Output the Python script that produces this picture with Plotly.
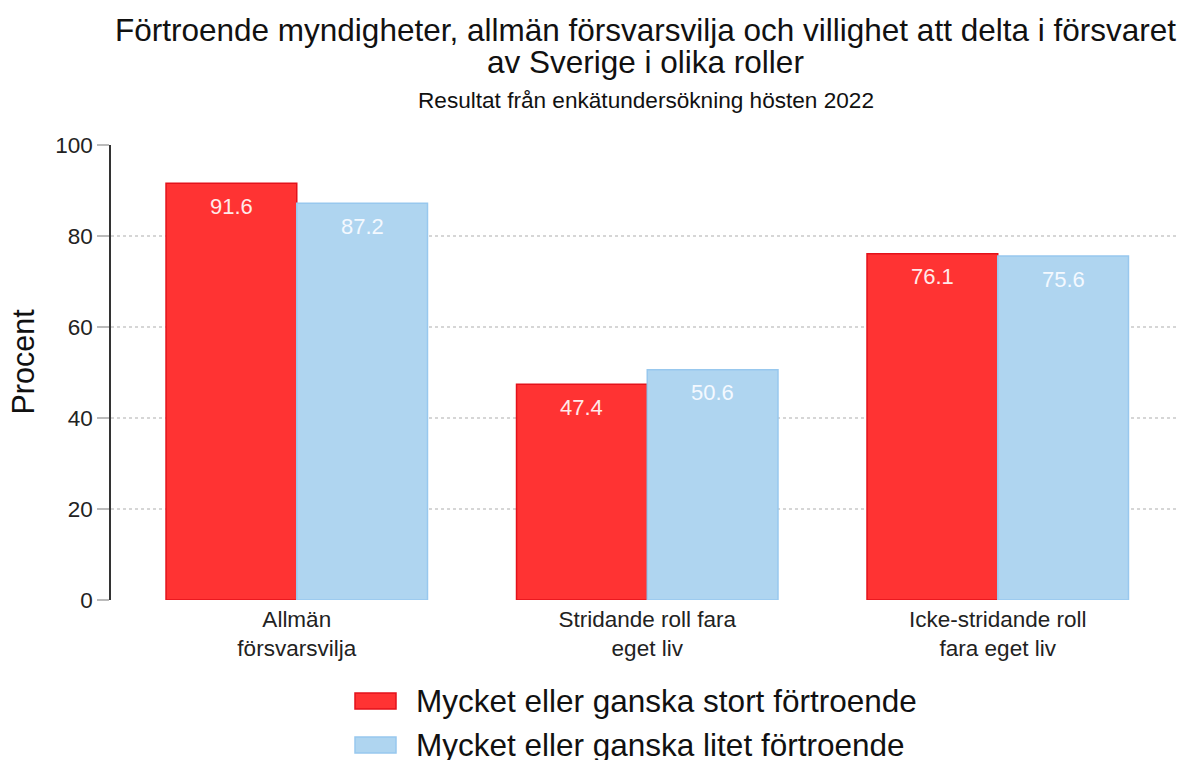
import plotly.graph_objects as go

categories = ["Allmän<br>försvarsvilja", "Stridande roll fara<br>eget liv", "Icke-stridande roll<br>fara eget liv"]
series_names = ["Mycket eller ganska stort förtroende", "Mycket eller ganska litet förtroende"]
stort = [91.6, 47.4, 76.1]
litet = [87.2, 50.6, 75.6]
y_ticks = [0, 20, 40, 60, 80, 100]

title_lines = ["Förtroende myndigheter, allmän försvarsvilja och villighet att delta i försvaret",
               "av Sverige i olika roller"]
subtitle = "Resultat från enkätundersökning hösten 2022"

font = "Liberation Sans, Arial, sans-serif"
red, red_line = "#ff3333", "#e3121b"
blue, blue_line = "#afd5f0", "#98c8ee"

OFF = 8  # default page body margin
W, H = 1185, 760
# target plot box in page pixels: left 111, top 145, right 1180, bottom 600
ML, MT = 111 - OFF, 145 - OFF
MR = W - (1180 - OFF)
MB = H - (600 - OFF)
x_range = [-0.53, 2.52]
bargap = 0.254
plot_w = W - ML - MR
plot_h = H - MT - MB
px_per_unit = plot_w / (x_range[1] - x_range[0])
half_bar = (1 - bargap) / 4 * px_per_unit


def py(page_y):
    """page pixel y -> paper coordinate"""
    return (MT + plot_h - (page_y - OFF)) / plot_h


def px(page_x):
    return (page_x - OFF - ML) / plot_w


fig = go.Figure()
fig.add_trace(go.Bar(
    x=categories, y=stort, name=series_names[0], showlegend=False,
    marker=dict(color=red, line=dict(color=red_line, width=1.5)),
))
fig.add_trace(go.Bar(
    x=categories, y=litet, name=series_names[1], showlegend=False,
    marker=dict(color=blue, line=dict(color=blue_line, width=1.5)),
))

annotations = []
for vals, shift, col in [(stort, -half_bar, "#ffeaea"), (litet, half_bar, "#f4f9ff")]:
    for c, v in zip(categories, vals):
        annotations.append(dict(
            x=c, y=v, xref="x", yref="y", xshift=shift, yshift=-23,
            text=f"{v:.1f}", showarrow=False, xanchor="center", yanchor="middle",
            font=dict(size=22, color=col, family=font),
        ))

# titles
for txt, ys, size in [(title_lines[0], 115, 31.5), (title_lines[1], 83, 31.5), (subtitle, 45, 22.6)]:
    annotations.append(dict(
        x=0.5, y=1, xref="paper", yref="paper", yshift=ys, text=txt, showarrow=False,
        xanchor="center", yanchor="middle", font=dict(size=size, color="#111", family=font),
    ))

# y-axis title
annotations.append(dict(
    x=0, y=0.5, xref="paper", yref="paper", xshift=-89, yshift=11, text="Procent", textangle=-90,
    showarrow=False, xanchor="center", yanchor="middle",
    font=dict(size=30.5, color="#111", family=font),
))

# legend (custom)
shapes = []
for i, (name, fc, lc) in enumerate([(series_names[0], red, red_line), (series_names[1], blue, blue_line)]):
    cy = 701 + 44 * i
    shapes.append(dict(type="rect", xref="paper", yref="paper", x0=px(355), x1=px(396),
                       y0=py(cy + 8), y1=py(cy - 8),
                       fillcolor=fc, line=dict(color=lc, width=1.5)))
    annotations.append(dict(
        x=px(414), y=py(cy), xref="paper", yref="paper", text=name,
        showarrow=False, xanchor="left", yanchor="middle",
        font=dict(size=31.5, color="#111", family=font),
    ))

fig.update_layout(
    width=W, height=H,
    margin=dict(l=ML, r=MR, t=MT, b=MB, autoexpand=False),
    paper_bgcolor="white", plot_bgcolor="white",
    font=dict(family=font, color="#222"),
    barmode="group", bargap=bargap, bargroupgap=0,
    xaxis=dict(
        range=x_range, showgrid=False, showline=False, ticks="", automargin=False,
        tickfont=dict(size=22.5, color="#222", family=font), ticklabelstandoff=3,
    ),
    yaxis=dict(
        range=[0, 100], tickvals=y_ticks, showline=True, linecolor="#333", linewidth=1.5,
        ticks="outside", tickcolor="#bbb", ticklen=12, tickwidth=2, automargin=False,
        showgrid=True, gridcolor="#d6d6d6", griddash="dot", gridwidth=2,
        zeroline=False, tickfont=dict(size=22.5, color="#222", family=font),
    ),
    annotations=annotations,
    shapes=shapes,
    showlegend=False,
)

fig.write_html("out.html")
